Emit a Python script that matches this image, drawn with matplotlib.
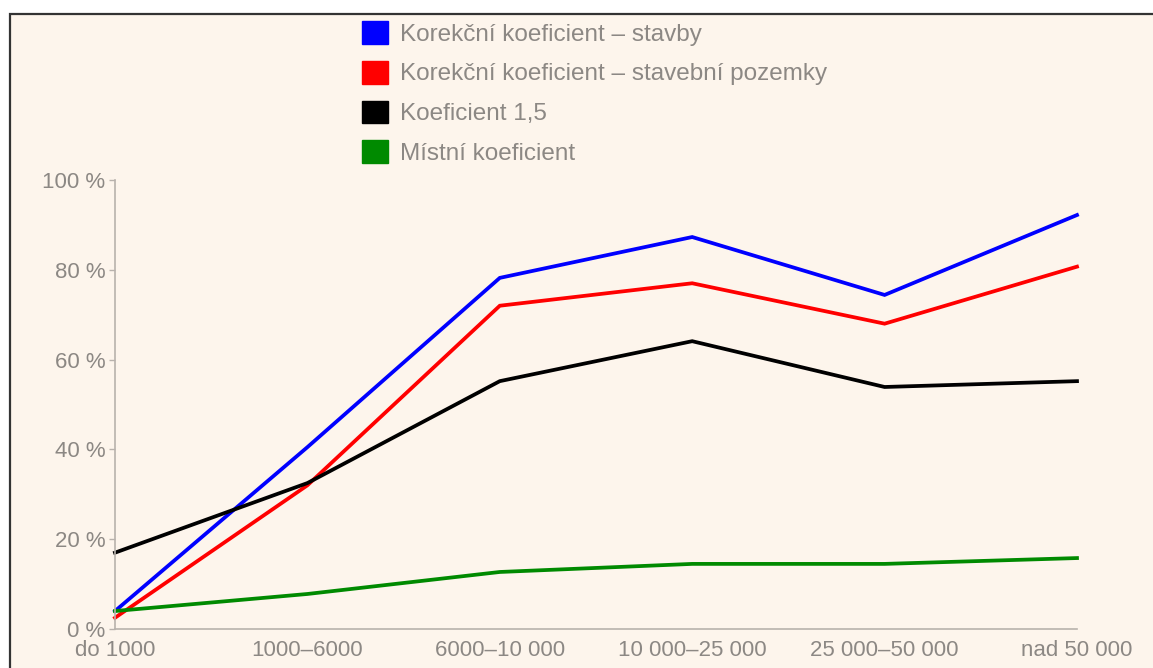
import matplotlib
matplotlib.use("Agg")
import matplotlib.pyplot as plt
from matplotlib.patches import Patch, Rectangle

categories = ["do 1000", "1000–6000", "6000–10 000", "10 000–25 000", "25 000–50 000", "nad 50 000"]
stavby = [4.0, 40.5, 78.2, 87.3, 74.4, 92.2]
pozemky = [2.5, 32.0, 72.0, 77.0, 68.0, 80.7]
koef_15 = [17.0, 32.5, 55.2, 64.1, 53.9, 55.2]
mistni = [4.0, 7.8, 12.7, 14.5, 14.5, 15.8]

series = [
    ("Korekční koeficient – stavby", stavby, "#0000ff"),
    ("Korekční koeficient – stavební pozemky", pozemky, "#ff0000"),
    ("Koeficient 1,5", koef_15, "#000000"),
    ("Místní koeficient", mistni, "#008a00"),
]
y_ticks = [0, 20, 40, 60, 80, 100]

W, H = 1153, 668
plt.rcParams["font.family"] = ["Liberation Sans", "DejaVu Sans"]

fig = plt.figure(figsize=(W / 100, H / 100), dpi=100, facecolor="white")

# cream panel with dark frame (cut off at right and bottom)
frame = Rectangle((9.5 / W, -0.1), 1.2, 1 - 14 / H + 0.1, transform=fig.transFigure,
                  facecolor="#fdf5ec", edgecolor="#333333", linewidth=1.6, zorder=-10)
fig.patches.append(frame)

ax = fig.add_axes([115 / W, 1 - 629 / H, (1077 - 115) / W, (629 - 180) / H])
ax.set_facecolor("none")

x = range(len(categories))
for label, values, color in series:
    ax.plot(x, values, color=color, linewidth=2.7, clip_on=False, solid_joinstyle="miter")

ax.set_xlim(0, len(categories) - 1)
ax.set_ylim(0, 100)
ax.set_xticks(list(x))
ax.set_xticklabels(categories)
ax.set_yticks(y_ticks)
ax.set_yticklabels([f"{t} %" for t in y_ticks])

gray = "#8c8884"
for side in ["top", "right"]:
    ax.spines[side].set_visible(False)
for side in ["left", "bottom"]:
    ax.spines[side].set_color("#b8b2ac")
    ax.spines[side].set_linewidth(1.2)
ax.tick_params(axis="y", length=4, width=1, color="#b8b2ac", pad=3, labelsize=16, labelcolor=gray)
ax.tick_params(axis="x", length=0, pad=8, labelsize=16, labelcolor=gray)

handles = [Patch(facecolor=c, edgecolor=c, label=l) for l, _, c in series]
fig.legend(handles=handles, loc="upper left", bbox_to_anchor=(362 / W, 1 - 21 / H),
           bbox_transform=fig.transFigure, frameon=False, fontsize=17.5,
           handlelength=1.07, handleheight=1.07, handletextpad=0.5,
           labelspacing=0.62, borderpad=0, borderaxespad=0, labelcolor=gray)

fig.savefig("out.png", dpi=100, facecolor="white")
